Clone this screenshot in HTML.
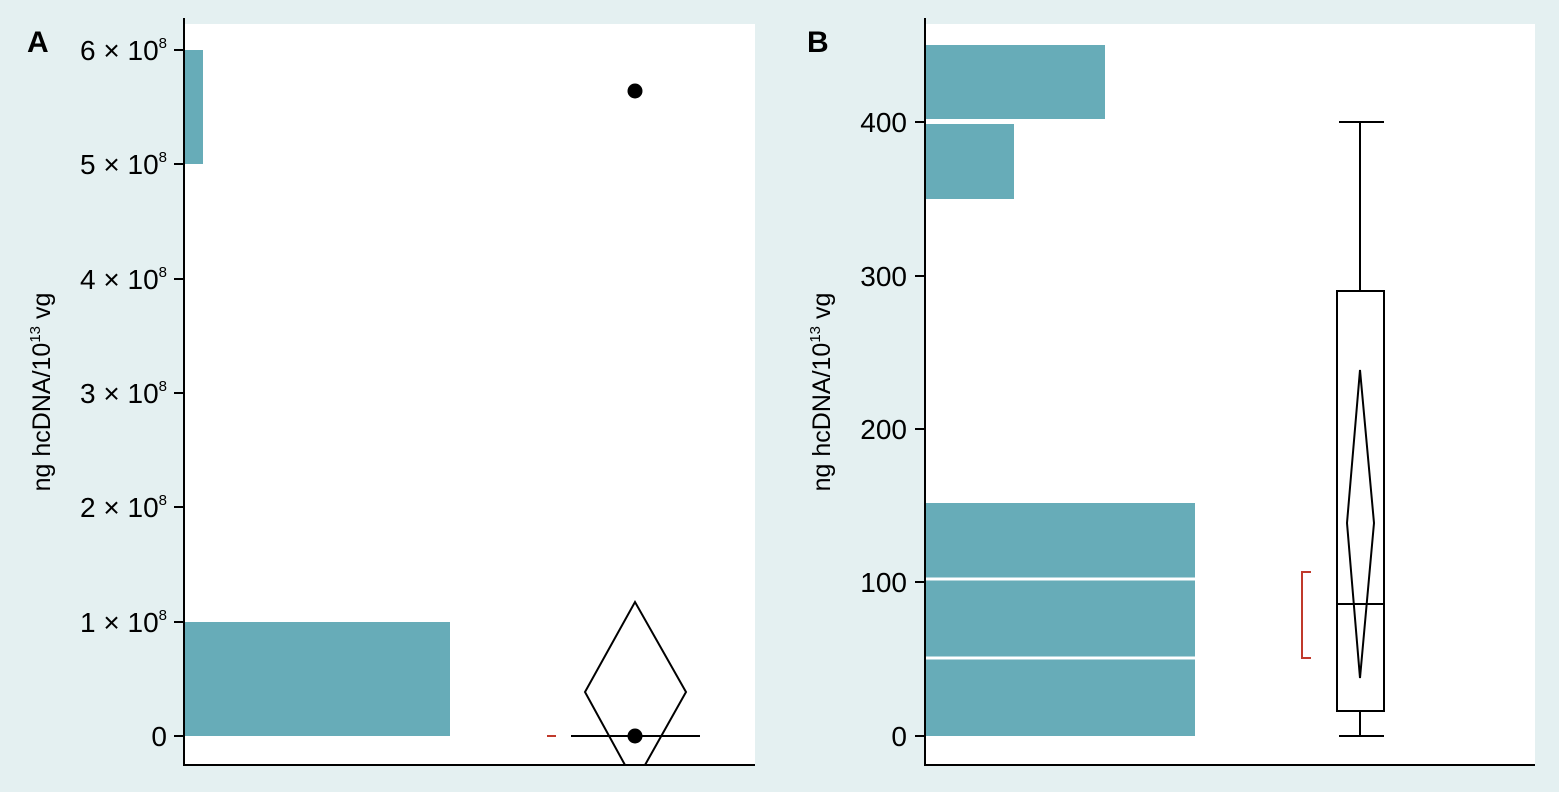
<!DOCTYPE html>
<html><head><style>
html,body{margin:0;padding:0;background:#e4f0f1;overflow:hidden;}
svg{display:block;}
svg text{font-family:"Liberation Sans",sans-serif;fill:#000;}
</style></head><body>
<svg width="1559" height="792" viewBox="0 0 1559 792" xmlns="http://www.w3.org/2000/svg">
<rect width="1559" height="792" fill="#e4f0f1"/>
<!-- Panel A -->
<rect x="184" y="24" width="571" height="741" fill="#fff"/>
<rect x="184" y="622" width="266" height="114" fill="#67acb8"/>
<rect x="184" y="50" width="19" height="114" fill="#67acb8"/>
<line x1="184" y1="18" x2="184" y2="766" stroke="#000" stroke-width="2"/>
<line x1="184" y1="765" x2="755" y2="765" stroke="#000" stroke-width="2"/>
<g stroke="#000" stroke-width="2">
<line x1="174" y1="736" x2="184" y2="736"/><line x1="174" y1="622" x2="184" y2="622"/>
<line x1="174" y1="507" x2="184" y2="507"/><line x1="174" y1="393" x2="184" y2="393"/>
<line x1="174" y1="279" x2="184" y2="279"/><line x1="174" y1="164" x2="184" y2="164"/>
<line x1="174" y1="50" x2="184" y2="50"/>
</g>
<g font-size="28" text-anchor="end">
<text x="167" y="746">0</text>
<text x="167" y="632">1 × 10<tspan font-size="15" dy="-12">8</tspan></text>
<text x="167" y="517">2 × 10<tspan font-size="15" dy="-12">8</tspan></text>
<text x="167" y="403">3 × 10<tspan font-size="15" dy="-12">8</tspan></text>
<text x="167" y="289">4 × 10<tspan font-size="15" dy="-12">8</tspan></text>
<text x="167" y="174">5 × 10<tspan font-size="15" dy="-12">8</tspan></text>
<text x="167" y="60">6 × 10<tspan font-size="15" dy="-12">8</tspan></text>
</g>
<text x="27" y="52" font-size="30" font-weight="bold">A</text>
<text transform="translate(50,392) rotate(-90)" font-size="25" text-anchor="middle">ng hcDNA/10<tspan font-size="15" dy="-10">13</tspan><tspan dy="10"> vg</tspan></text>
<g stroke="#000" stroke-width="2" fill="none">
<polyline points="625,765 585,692 635,602 686,692 645,765"/>
<line x1="571" y1="736" x2="700" y2="736"/>
</g>
<line x1="547" y1="736" x2="556" y2="736" stroke="#c0392b" stroke-width="2"/>
<circle cx="635" cy="736" r="7.5" fill="#000"/>
<circle cx="635" cy="91" r="7.5" fill="#000"/>
<!-- Panel B -->
<rect x="925" y="24" width="610" height="741" fill="#fff"/>
<rect x="925" y="503" width="270" height="233" fill="#67acb8"/>
<line x1="925" y1="658" x2="1195" y2="658" stroke="#fff" stroke-width="3"/>
<line x1="925" y1="579" x2="1195" y2="579" stroke="#fff" stroke-width="3"/>
<rect x="925" y="124" width="89" height="75" fill="#67acb8"/>
<rect x="925" y="45" width="180" height="74" fill="#67acb8"/>
<line x1="925" y1="18" x2="925" y2="766" stroke="#000" stroke-width="2"/>
<line x1="925" y1="765" x2="1535" y2="765" stroke="#000" stroke-width="2"/>
<g stroke="#000" stroke-width="2">
<line x1="915" y1="736" x2="925" y2="736"/><line x1="915" y1="582" x2="925" y2="582"/>
<line x1="915" y1="429" x2="925" y2="429"/><line x1="915" y1="276" x2="925" y2="276"/>
<line x1="915" y1="122" x2="925" y2="122"/>
</g>
<g font-size="28" text-anchor="end">
<text x="907" y="746">0</text><text x="907" y="592">100</text>
<text x="907" y="439">200</text><text x="907" y="286">300</text>
<text x="907" y="132">400</text>
</g>
<text x="807" y="52" font-size="30" font-weight="bold">B</text>
<text transform="translate(830,392) rotate(-90)" font-size="25" text-anchor="middle">ng hcDNA/10<tspan font-size="15" dy="-10">13</tspan><tspan dy="10"> vg</tspan></text>
<g stroke="#000" stroke-width="2" fill="none">
<rect x="1337" y="291" width="47" height="420"/>
<line x1="1337" y1="604" x2="1384" y2="604"/>
<line x1="1360" y1="291" x2="1360" y2="122"/>
<line x1="1360" y1="711" x2="1360" y2="736"/>
<line x1="1339" y1="122" x2="1384" y2="122"/>
<line x1="1339" y1="736" x2="1384" y2="736"/>
<polygon points="1360,370 1374,523 1360,678 1347,523"/>
</g>
<polyline points="1311,572 1302,572 1302,658 1311,658" fill="none" stroke="#c0392b" stroke-width="2"/>
</svg>
</body></html>
